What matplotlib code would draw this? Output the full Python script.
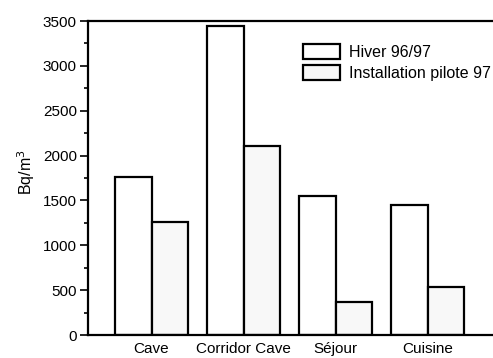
import numpy as np
import matplotlib.pyplot as plt
from matplotlib.ticker import MultipleLocator

categories = ["Cave", "Corridor Cave", "Séjour", "Cuisine"]
hiver = [1760, 3450, 1545, 1455]
pilote = [1260, 2110, 365, 535]
series_labels = ["Hiver 96/97", "Installation pilote 97"]

plt.rcParams["font.family"] = ["Liberation Sans", "DejaVu Sans"]

fig = plt.figure(figsize=(4.93, 3.58), dpi=100)
ax = fig.add_axes([0.1785, 0.064, 0.8215, 0.8773])

x = np.arange(len(categories))
w = 0.4
ax.bar(x - w / 2, hiver, w, facecolor="white", edgecolor="black", lw=1.6,
       label=series_labels[0])
ax.bar(x + w / 2, pilote, w, facecolor="#f8f8f8", edgecolor="black", lw=1.6,
       label=series_labels[1])

ax.set_xlim(-0.69, 3.71)
ax.set_ylim(0, 3500)
ax.yaxis.set_major_locator(MultipleLocator(500))
ax.yaxis.set_minor_locator(MultipleLocator(250))
ax.tick_params(axis="y", which="major", length=6, width=1.2, direction="out",
               labelsize=11, pad=2)
ax.tick_params(axis="y", which="minor", length=3, width=1.2, direction="out")
ax.set_xticks(x)
ax.set_xticklabels(categories, fontsize=11)
ax.tick_params(axis="x", length=0, pad=5)

for side in ["left", "top", "bottom"]:
    ax.spines[side].set_linewidth(1.6)
ax.spines["right"].set_visible(False)

ax.set_ylabel("Bq/m$^3$", fontsize=11.5)
ax.yaxis.set_label_coords(-0.125, 0.52)

leg = ax.legend(loc="upper left", bbox_to_anchor=(0.531, 0.926), frameon=False,
                fontsize=11.5, handlelength=2.3, handleheight=1.05,
                labelspacing=0.3, handletextpad=0.55, borderaxespad=0,
                borderpad=0)

fig.savefig("out.png", dpi=100)
